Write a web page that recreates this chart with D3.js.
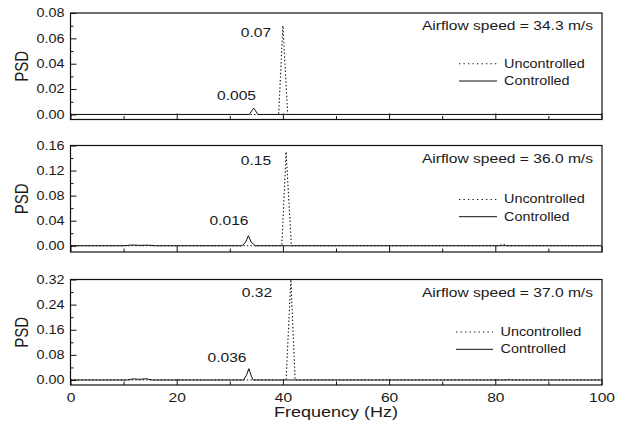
<!DOCTYPE html>
<html>
<head>
<meta charset="utf-8">
<script src="https://cdn.jsdelivr.net/npm/d3@7"></script>
<style>
  html, body { margin: 0; padding: 0; background: #fff; }
  svg { display: block; }
  text { font-family: "Liberation Sans", Arial, sans-serif; fill: #1a1a1a; }
</style>
</head>
<body>
<svg id="chart" width="623" height="431"></svg>
<script>
// ---- data ----
const airflowSpeeds = ["34.3", "36.0", "37.0"];
const seriesNames = ["Uncontrolled", "Controlled"];

const freqTicks = [0, 20, 40, 60, 80, 100];
const freqMinorTicks = [10, 30, 50, 70, 90];

const psdTicks343 = [0, 0.02, 0.04, 0.06, 0.08];
const psdMinor343 = [0.01, 0.03, 0.05, 0.07];
const psdTicks360 = [0, 0.04, 0.08, 0.12, 0.16];
const psdMinor360 = [0.02, 0.06, 0.10, 0.14];
const psdTicks370 = [0, 0.08, 0.16, 0.24, 0.32];
const psdMinor370 = [0.04, 0.12, 0.20, 0.28];

// 34.3 m/s
const freqUnc343 = [0, 39.2, 40.0, 40.9, 100];
const psdUnc343  = [0, 0, 0.07, 0, 0];
const freqCtl343 = [0, 33.7, 34.2, 34.5, 34.8, 35.3, 100];
const psdCtl343  = [0, 0, 0.0032, 0.005, 0.0032, 0, 0];

// 36.0 m/s
const freqUnc360 = [0, 39.8, 40.6, 41.6, 80.6, 81.4, 82.3, 100];
const psdUnc360  = [0, 0, 0.15, 0, 0, 0.0022, 0, 0];
const freqCtl360 = [0, 10.2, 11.6, 13.0, 14.6, 16.0, 32.3, 33.0, 33.5, 34.0, 34.8, 100];
const psdCtl360  = [0, 0, 0.0012, 0.0006, 0.0009, 0, 0, 0.006, 0.016, 0.006, 0, 0];

// 37.0 m/s
const freqUnc370 = [0, 40.6, 41.5, 42.3, 82.2, 82.8, 83.4, 100];
const psdUnc370  = [0, 0, 0.32, 0, 0, 0.003, 0, 0];
const freqCtl370 = [0, 10.6, 11.8, 13.0, 14.2, 15.4, 32.6, 33.1, 33.6, 34.1, 34.4, 100];
const psdCtl370  = [0, 0, 0.0035, 0.002, 0.004, 0, 0, 0.014, 0.036, 0.010, 0, 0];

const panelsData = [
  { speed: airflowSpeeds[0], ticks: psdTicks343, minor: psdMinor343, yMin: -0.004, unc: [freqUnc343, psdUnc343], ctl: [freqCtl343, psdCtl343] },
  { speed: airflowSpeeds[1], ticks: psdTicks360, minor: psdMinor360, yMin: -0.01,  unc: [freqUnc360, psdUnc360], ctl: [freqCtl360, psdCtl360] },
  { speed: airflowSpeeds[2], ticks: psdTicks370, minor: psdMinor370, yMin: -0.016, unc: [freqUnc370, psdUnc370], ctl: [freqCtl370, psdCtl370] }
];

// ---- layout ----
const plotLeft = 70.5, plotRight = 602;
const panelLayout = [
  { top: 13,    bottom: 119.5, uncLabel: [256, 36.7],  ctlLabel: [236.5, 100],  legend: { x1: 459, x2: 497, tx: 504,   y: [67.7, 85] } },
  { top: 145.5, bottom: 252,   uncLabel: [256, 165],   ctlLabel: [229, 225],    legend: { x1: 459, x2: 497, tx: 504,   y: [203.5, 220.7] } },
  { top: 279.5, bottom: 385,   uncLabel: [257, 297.3], ctlLabel: [227, 361.7],  legend: { x1: 456, x2: 493, tx: 500.5, y: [336, 353.3] } }
];
const SX = 1.2;               // horizontal text stretch
const dotted = "1.4,2.2";

const svg = d3.select("#chart");

const x = d3.scaleLinear().domain([0, 100]).range([plotLeft, plotRight - 0.5]);

function stretch(sel, sx) {
  sel.each(function () {
    const t = d3.select(this);
    const tx = +t.attr("x") || 0;
    const prev = t.attr("transform");
    const s = `translate(${tx * (1 - sx)},0) scale(${sx},1)`;
    t.attr("transform", prev ? prev + " " + s : s);
  });
}

panelsData.forEach((p, i) => {
  const L = panelLayout[i];
  const yMax = p.ticks[p.ticks.length - 1];
  const y = d3.scaleLinear().domain([p.yMin, yMax]).range([L.bottom, L.top]);
  const g = svg.append("g");

  // y axis: major ticks with labels, minor ticks without
  const yAxis = g.append("g").attr("transform", `translate(${plotLeft},0)`)
    .call(d3.axisLeft(y).tickValues(p.ticks).tickFormat(d3.format(".2f"))
      .tickSizeInner(-6).tickSizeOuter(0).tickPadding(6));
  yAxis.select(".domain").remove();
  yAxis.selectAll("line").attr("stroke", "#111").attr("stroke-width", 1);
  yAxis.selectAll("text").attr("font-size", 12).attr("fill", "#1a1a1a")
    .attr("font-family", "Liberation Sans, Arial, sans-serif").call(stretch, SX);

  const yMinor = g.append("g").attr("transform", `translate(${plotLeft},0)`)
    .call(d3.axisLeft(y).tickValues(p.minor).tickFormat("").tickSizeInner(-3).tickSizeOuter(0));
  yMinor.select(".domain").remove();
  yMinor.selectAll("line").attr("stroke", "#111");

  // x axis ticks along the bottom of each panel
  const xAxis = g.append("g").attr("transform", `translate(0,${L.bottom})`)
    .call(d3.axisBottom(x).tickValues(freqTicks).tickFormat(d3.format("d"))
      .tickSizeInner(-6).tickSizeOuter(0).tickPadding(8));
  xAxis.select(".domain").remove();
  xAxis.selectAll("line").attr("stroke", "#111");
  if (i === panelsData.length - 1) {
    xAxis.selectAll("text").attr("font-size", 13).attr("fill", "#1a1a1a")
      .attr("font-family", "Liberation Sans, Arial, sans-serif").call(stretch, SX);
  } else {
    xAxis.selectAll("text").remove();
  }
  const xMinor = g.append("g").attr("transform", `translate(0,${L.bottom})`)
    .call(d3.axisBottom(x).tickValues(freqMinorTicks).tickFormat("").tickSizeInner(-3.5).tickSizeOuter(0));
  xMinor.select(".domain").remove();
  xMinor.selectAll("line").attr("stroke", "#111");

  // frame
  g.append("rect")
    .attr("x", plotLeft).attr("y", L.top)
    .attr("width", plotRight - plotLeft).attr("height", L.bottom - L.top)
    .attr("fill", "none").attr("stroke", "#111").attr("stroke-width", 1.2);

  // spectra
  const line = d3.line().x(d => x(d[0])).y(d => y(d[1]));
  const toPts = s => s[0].map((f, k) => [f, s[1][k]]);
  g.append("path").datum(toPts(p.ctl)).attr("d", line)
    .attr("fill", "none").attr("stroke", "#111").attr("stroke-width", 1);
  g.append("path").datum(toPts(p.unc)).attr("d", line)
    .attr("fill", "none").attr("stroke", "#111").attr("stroke-width", 1.1)
    .attr("stroke-dasharray", dotted);

  // peak value labels
  const uncPeak = d3.max(p.unc[1]);
  const ctlPeak = d3.max(p.ctl[1]);
  [[uncPeak, L.uncLabel], [ctlPeak, L.ctlLabel]].forEach(([v, pos]) => {
    g.append("text").attr("x", pos[0]).attr("y", pos[1])
      .attr("text-anchor", "middle").attr("font-size", 13)
      .text(String(v)).call(stretch, SX);
  });

  // speed caption
  g.append("text").attr("x", plotRight - 9).attr("y", L.top + 17.5)
    .attr("text-anchor", "end").attr("font-size", 13)
    .text(`Airflow speed = ${p.speed} m/s`).call(stretch, SX);

  // legend
  seriesNames.forEach((name, k) => {
    const ly = L.legend.y[k];
    g.append("line").attr("x1", L.legend.x1).attr("x2", L.legend.x2)
      .attr("y1", ly - 4).attr("y2", ly - 4)
      .attr("stroke", "#111").attr("stroke-width", k === 0 ? 1.1 : 1)
      .attr("stroke-dasharray", k === 0 ? "1.3,3.2" : null);
    g.append("text").attr("x", L.legend.tx).attr("y", ly)
      .attr("font-size", 12).text(name).call(stretch, SX);
  });

  // y title
  g.append("text")
    .attr("transform", `translate(28.3,${(L.top + L.bottom) / 2}) scale(${SX},1) rotate(-90)`)
    .attr("text-anchor", "middle").attr("font-size", 15).text("PSD");
});

// x title
svg.append("text").attr("x", x(50)).attr("y", 417)
  .attr("text-anchor", "middle").attr("font-size", 15)
  .text("Frequency (Hz)").call(stretch, SX);
</script>
</body>
</html>
